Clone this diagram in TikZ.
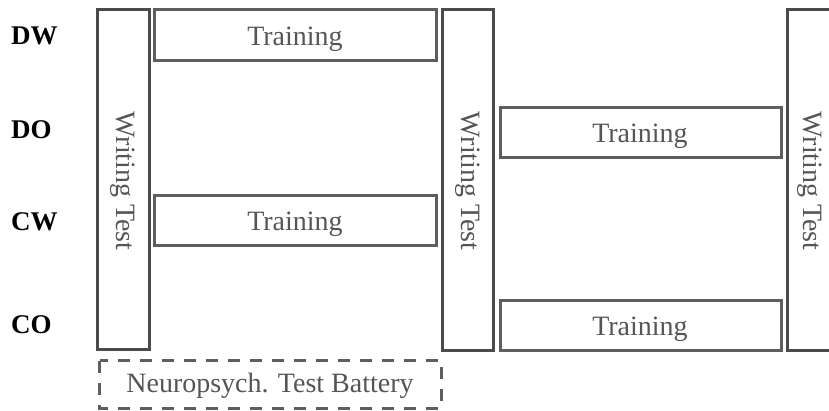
\documentclass[tikz,border=0pt]{standalone}
\usepackage{fontspec}
\setmainfont{Liberation Serif}
\definecolor{boxc}{HTML}{4A4A4A}
\definecolor{trc}{HTML}{5E5E5E}
\definecolor{txtc}{HTML}{555555}
\begin{document}
\begin{tikzpicture}[x=1pt,y=-1pt,
  wtbox/.style={draw=boxc,line width=3pt,inner sep=0pt},
  trbox/.style={draw=trc,line width=3pt,inner sep=0pt},
  nbox/.style={draw=trc,line width=3pt,dash pattern=on 12pt off 10pt,inner sep=0pt},
  lbl/.style={text=txtc,font=\fontsize{28}{32}\selectfont,anchor=base,inner sep=0pt},
  wtlabel/.style={text=txtc,font=\fontsize{28}{32}\selectfont,rotate=-90},
  grp/.style={font=\bfseries\fontsize{27}{30}\selectfont,anchor=base west,inner sep=0pt}]
\useasboundingbox (0,0) rectangle (829,410);
% writing test boxes
\draw[wtbox] (97.5,9.5) rectangle (149.5,349.5);
\node[wtlabel] (wt1) at (123,181) {Writing Test};
\draw[wtbox] (442.5,9.5) rectangle (493.5,350.5);
\node[wtlabel] (wt2) at (467.5,181) {Writing Test};
\draw[wtbox] (787.5,9.5) rectangle (840,350.5);
\node[wtlabel] (wt3) at (810,181) {Writing Test};
% training boxes
\draw[trbox] (154.5,9.5) rectangle (436,60.5);
\node[lbl] (t1) at (295,45) {Training};
\draw[trbox] (154.5,195.5) rectangle (436,245.5);
\node[lbl] (t2) at (295,230) {Training};
\draw[trbox] (500,107.5) rectangle (781,157);
\node[lbl] (t3) at (640,142) {Training};
\draw[trbox] (500,300) rectangle (781,350.5);
\node[lbl] (t4) at (640,335) {Training};
% neuropsych
\draw[nbox] (99.5,360.5) rectangle (441,408);
\node[lbl] (np) at (270,392) {Neuropsych. Test Battery};
% group labels
\node[grp] (dw) at (11,44) {DW};
\node[grp] (do) at (11,138) {DO};
\node[grp] (cw) at (11,230) {CW};
\node[grp] (co) at (11,333) {CO};
\end{tikzpicture}
\end{document}
